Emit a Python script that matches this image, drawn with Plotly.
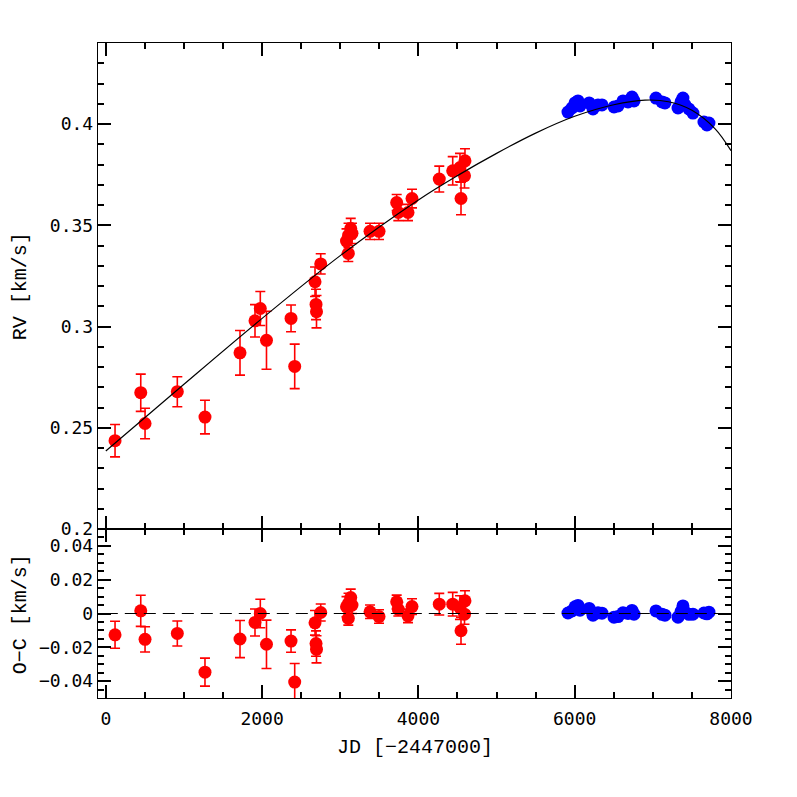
import plotly.graph_objects as go

# ---- data ----
# red (older) data: JD-2447000, RV [km/s], error, O-C [km/s]
red_jd = [118, 447, 502, 915, 1269, 1717, 1909, 1977, 2056, 2370, 2417, 2677, 2690, 2696,
          2750, 3080, 3106, 3103, 3134, 3150, 3381, 3496, 3722, 3743, 3867, 3918, 4267,
          4439, 4532, 4596, 4590, 4545]
red_rv = [0.2436, 0.2673, 0.2521, 0.2678, 0.2553, 0.2870, 0.3028, 0.3089, 0.2932, 0.3040,
          0.2803, 0.3221, 0.3109, 0.3073, 0.3309, 0.3422, 0.3450, 0.3361, 0.3484, 0.3460,
          0.3470, 0.3470, 0.3612, 0.3563, 0.3563, 0.3632, 0.3728, 0.3769, 0.3785, 0.3818,
          0.3744, 0.3632]
red_err = [0.0080, 0.0092, 0.0075, 0.0074, 0.0083, 0.0110, 0.0080, 0.0084, 0.0143, 0.0066,
           0.0110, 0.0073, 0.0075, 0.0080, 0.0050, 0.0060, 0.0060, 0.0040, 0.0050, 0.0050,
           0.0040, 0.0040, 0.0040, 0.0040, 0.0040, 0.0046, 0.0064, 0.0070, 0.0070, 0.0060,
           0.0060, 0.0080]
red_oc = [-0.0126, 0.0016, -0.0153, -0.0118, -0.0347, -0.0151, -0.0053, 0.0000, -0.0182, -0.0163,
          -0.0406, -0.0055, -0.0178, -0.0212, 0.0006, 0.0040, 0.0060, -0.0029, 0.0094, 0.0050,
          0.0010, -0.0018, 0.0069, 0.0025, -0.0014, 0.0041, 0.0055, 0.0055, 0.0035, 0.0075,
          -0.0004, -0.0102]

# blue (newer) data
blue_jd = [5914, 5965, 6004, 6042, 6068, 6185, 6234, 6298, 6349, 6503, 6554, 6618, 6682, 6733,
           6759, 7040, 7117, 7155, 7322, 7360, 7385, 7411, 7462, 7513, 7654, 7692, 7718]
blue_rv = [0.4059, 0.4079, 0.4104, 0.4114, 0.4089, 0.4104, 0.4074, 0.4094, 0.4094, 0.4084,
           0.4089, 0.4114, 0.4109, 0.4133, 0.4114, 0.4128, 0.4109, 0.4104, 0.4079, 0.4109,
           0.4128, 0.4094, 0.4074, 0.4054, 0.4010, 0.3995, 0.4005]
blue_oc = [0.0003, 0.0015, 0.0040, 0.0048, 0.0020, 0.0030, -0.0010, 0.0004, 0.0002, -0.0022,
           -0.0018, 0.0004, 0.0000, 0.0018, -0.0004, 0.0015, -0.0005, -0.0010, -0.0022, 0.0012,
           0.0045, 0.0008, -0.0005, -0.0004, 0.0003, -0.0002, 0.0008]

# orbit fit curve
fit_jd = [0, 1000, 2000, 3000, 4000, 4500, 5000, 5500, 6000, 6500, 6900, 7200, 7500, 7800, 8000]
fit_rv = [0.2385, 0.2715, 0.3040, 0.3350, 0.3625, 0.3745, 0.3855, 0.3955, 0.4038, 0.4095,
          0.4118, 0.4110, 0.4068, 0.3975, 0.3868]

x_ticks = [0, 2000, 4000, 6000, 8000]
rv_ticks = [0.2, 0.25, 0.3, 0.35, 0.4]
rv_labels = ["0.2", "0.25", "0.3", "0.35", "0.4"]
oc_ticks = [-0.04, -0.02, 0, 0.02, 0.04]
oc_labels = ["\u22120.04", "\u22120.02", "0", "0.02", "0.04"]

RED = "#ff0000"
BLUE = "#0000ff"
TICKFONT = dict(family="DejaVu Sans Mono", size=18, color="black")
TITLEFONT = dict(family="Liberation Mono", size=20, color="black")

fig = go.Figure()

err_style = dict(type="data", thickness=1.6, width=5, color=RED)

fig.add_trace(go.Scatter(x=red_jd, y=red_rv, mode="markers",
                         marker=dict(color=RED, size=13, line=dict(width=0)),
                         error_y=dict(array=red_err, **err_style),
                         xaxis="x", yaxis="y", showlegend=False))
fig.add_trace(go.Scatter(x=blue_jd, y=blue_rv, mode="markers",
                         marker=dict(color=BLUE, size=13, line=dict(width=0)),
                         xaxis="x", yaxis="y", showlegend=False))
fig.add_trace(go.Scatter(x=fit_jd, y=fit_rv, mode="lines",
                         line=dict(color="black", width=1.2, shape="spline", smoothing=1.0),
                         xaxis="x", yaxis="y", showlegend=False))

fig.add_trace(go.Scatter(x=red_jd, y=red_oc, mode="markers",
                         marker=dict(color=RED, size=13, line=dict(width=0)),
                         error_y=dict(array=red_err, **err_style),
                         xaxis="x2", yaxis="y2", showlegend=False))
fig.add_trace(go.Scatter(x=blue_jd, y=blue_oc, mode="markers",
                         marker=dict(color=BLUE, size=13, line=dict(width=0)),
                         xaxis="x2", yaxis="y2", showlegend=False))

fig.add_shape(type="line", xref="x2", yref="y2", x0=0, x1=8000, y0=0, y1=0,
              line=dict(color="black", width=1.2, dash="12px,7px"), layer="above")

axis_common = dict(showline=True, linecolor="black", linewidth=1.4, mirror="ticks",
                   ticks="inside", ticklen=13, tickwidth=1.5, tickcolor="black",
                   showgrid=False, zeroline=False, tickfont=TICKFONT)

X_RANGE = [-100, 8000]
fig.update_layout(
    width=797, height=797,
    margin=dict(l=90, r=74, t=35, b=107),
    paper_bgcolor="white", plot_bgcolor="white",
    xaxis=dict(domain=[0, 1], anchor="y", range=X_RANGE, tickmode="array", tickvals=x_ticks,
               showticklabels=False,
               minor=dict(tickmode="linear", tick0=0, dtick=500, ticks="inside", ticklen=6,
                          tickwidth=1.5, tickcolor="black", showgrid=False),
               **axis_common),
    xaxis2=dict(domain=[0, 1], anchor="y2", range=X_RANGE, tickmode="array", tickvals=x_ticks,
                ticktext=[str(v) for v in x_ticks], ticklabelstandoff=4,
                minor=dict(tickmode="linear", tick0=0, dtick=500, ticks="inside", ticklen=6,
                           tickwidth=1.5, tickcolor="black", showgrid=False),
                **axis_common),
    yaxis=dict(domain=[0.258, 1], anchor="x", range=[0.2, 0.44], tickmode="array",
               tickvals=rv_ticks, ticktext=rv_labels,
               minor=dict(tickmode="linear", tick0=0.2, dtick=0.01, ticks="inside", ticklen=6,
                          tickwidth=1.5, tickcolor="black", showgrid=False),
               **axis_common),
    yaxis2=dict(domain=[0, 0.258], anchor="x2", range=[-0.05, 0.05], tickmode="array",
                tickvals=oc_ticks, ticktext=oc_labels,
                minor=dict(tickmode="linear", tick0=0, dtick=0.005, ticks="inside", ticklen=6,
                           tickwidth=1.5, tickcolor="black", showgrid=False),
                **axis_common),
    annotations=[
        dict(text="JD [\u22122447000]", xref="paper", yref="paper", x=0.5, y=-0.076,
             xanchor="center", yanchor="middle", showarrow=False, font=TITLEFONT),
        dict(text="RV [km/s]", xref="paper", yref="paper", x=-0.123, y=0.629,
             xanchor="center", yanchor="middle", textangle=-90, showarrow=False, font=TITLEFONT),
        dict(text="O\u2212C [km/s]", xref="paper", yref="paper", x=-0.123, y=0.128,
             xanchor="center", yanchor="middle", textangle=-90, showarrow=False, font=TITLEFONT),
    ],
)

fig.write_html("out.html")
